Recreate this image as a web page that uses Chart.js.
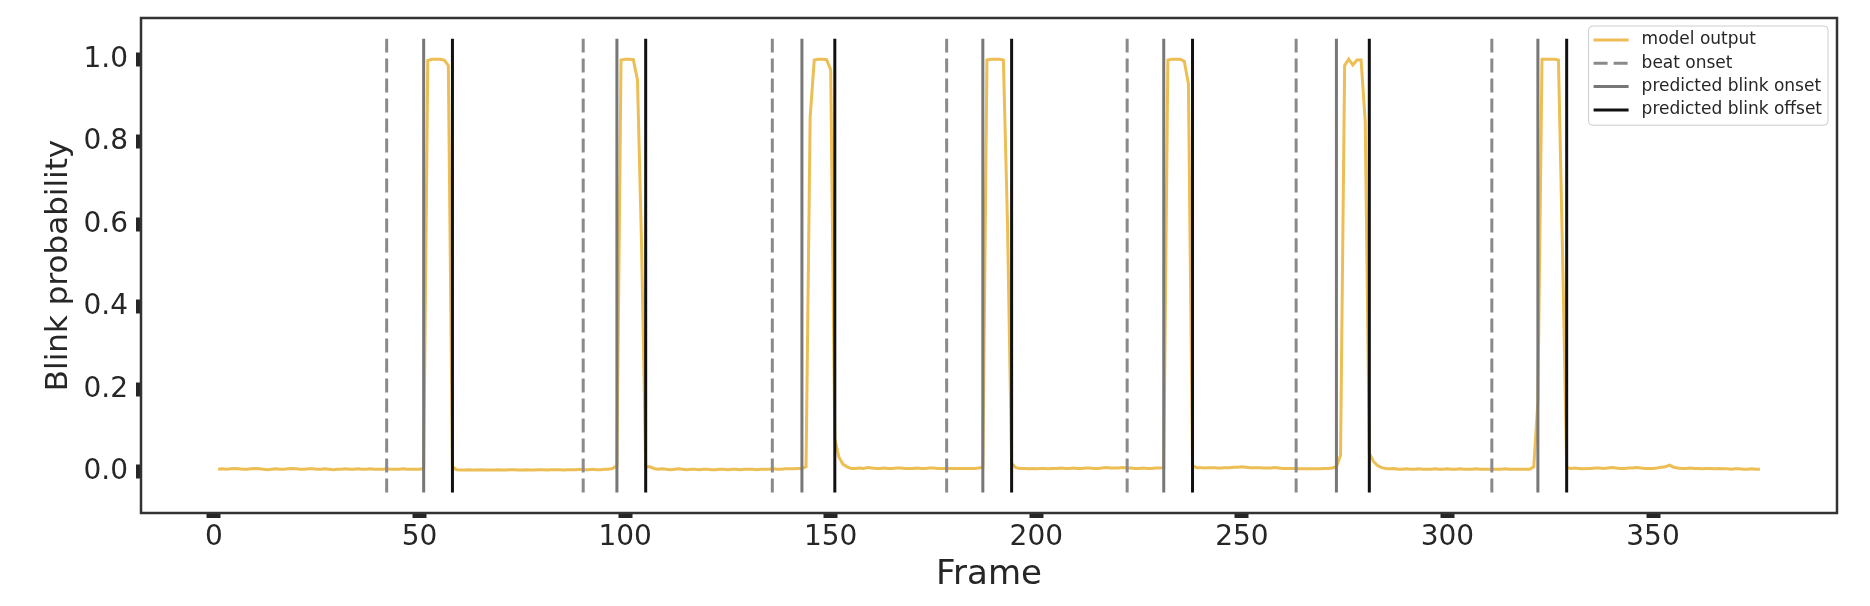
<!DOCTYPE html>
<html>
<head>
<meta charset="utf-8">
<script src="https://cdn.jsdelivr.net/npm/chart.js@4.4.1/dist/chart.umd.min.js"></script>
<style>
    body { margin: 0; background: #ffffff; }
    canvas { display: block; }
</style>
</head>
<body>
<canvas id="blink-chart" width="1870" height="606"></canvas>
<script>
const canvas = document.getElementById('blink-chart');
const FONT = '"DejaVu Sans", sans-serif';

// model output, one value per frame (frames 1..376)
const model_output = [
           0.006, 0.007, 0.006, 0.007, 0.008, 0.007, 0.006, 0.006, 0.007,
    0.008, 0.007, 0.006, 0.005, 0.006, 0.007, 0.006, 0.006, 0.007, 0.008,
    0.007, 0.006, 0.006, 0.007, 0.007, 0.006, 0.006, 0.007, 0.006, 0.005,
    0.006, 0.006, 0.007, 0.006, 0.006, 0.007, 0.006, 0.006, 0.007, 0.006,
    0.006, 0.006, 0.007, 0.006, 0.006, 0.006, 0.007, 0.006, 0.006, 0.006,
    0.006, 0.008, 0.997, 1.000, 1.000, 1.000, 0.998, 0.985, 0.012, 0.005,
    0.004, 0.004, 0.005, 0.004, 0.004, 0.005, 0.004, 0.004, 0.004, 0.005,
    0.004, 0.004, 0.005, 0.005, 0.004, 0.004, 0.005, 0.004, 0.004, 0.005,
    0.005, 0.004, 0.005, 0.005, 0.005, 0.004, 0.005, 0.005, 0.005, 0.006,
    0.005, 0.005, 0.006, 0.005, 0.005, 0.006, 0.006, 0.008, 0.015, 0.998,
    1.000, 1.000, 0.999, 0.950, 0.550, 0.012, 0.012, 0.008, 0.006, 0.007,
    0.006, 0.005, 0.006, 0.007, 0.006, 0.005, 0.006, 0.006, 0.005, 0.006,
    0.006, 0.005, 0.005, 0.006, 0.006, 0.005, 0.006, 0.006, 0.005, 0.006,
    0.006, 0.006, 0.005, 0.006, 0.006, 0.006, 0.007, 0.006, 0.006, 0.007,
    0.007, 0.007, 0.008, 0.008, 0.012, 0.860, 0.998, 1.000, 1.000, 0.999,
    0.975, 0.080, 0.035, 0.018, 0.012, 0.008, 0.008, 0.009, 0.008, 0.010,
    0.009, 0.008, 0.008, 0.009, 0.008, 0.008, 0.009, 0.009, 0.008, 0.008,
    0.008, 0.009, 0.008, 0.008, 0.009, 0.009, 0.008, 0.008, 0.008, 0.008,
    0.008, 0.008, 0.008, 0.008, 0.008, 0.008, 0.009, 0.011, 0.998, 1.000,
    1.000, 1.000, 0.998, 0.600, 0.020, 0.010, 0.008, 0.008, 0.007, 0.008,
    0.007, 0.008, 0.008, 0.007, 0.008, 0.008, 0.009, 0.008, 0.008, 0.009,
    0.008, 0.008, 0.009, 0.009, 0.008, 0.008, 0.009, 0.010, 0.009, 0.009,
    0.009, 0.010, 0.009, 0.009, 0.008, 0.008, 0.009, 0.008, 0.008, 0.009,
    0.009, 0.010, 0.998, 1.000, 1.000, 1.000, 0.995, 0.940, 0.015, 0.010,
    0.010, 0.009, 0.010, 0.010, 0.009, 0.009, 0.010, 0.010, 0.011, 0.011,
    0.012, 0.011, 0.010, 0.010, 0.010, 0.009, 0.009, 0.009, 0.010, 0.009,
    0.008, 0.008, 0.008, 0.008, 0.007, 0.007, 0.007, 0.007, 0.007, 0.007,
    0.008, 0.008, 0.009, 0.012, 0.040, 0.985, 1.000, 0.986, 0.998, 0.998,
    0.850, 0.045, 0.025, 0.015, 0.010, 0.008, 0.007, 0.008, 0.006, 0.006,
    0.007, 0.006, 0.006, 0.007, 0.006, 0.006, 0.006, 0.007, 0.006, 0.006,
    0.007, 0.006, 0.006, 0.007, 0.006, 0.006, 0.006, 0.007, 0.006, 0.006,
    0.006, 0.006, 0.006, 0.006, 0.007, 0.006, 0.006, 0.006, 0.006, 0.006,
    0.006, 0.012, 0.170, 1.000, 1.000, 1.000, 1.000, 0.998, 0.530, 0.010,
    0.008, 0.009, 0.008, 0.007, 0.008, 0.008, 0.009, 0.009, 0.008, 0.009,
    0.010, 0.009, 0.008, 0.008, 0.009, 0.009, 0.010, 0.009, 0.008, 0.008,
    0.008, 0.009, 0.011, 0.012, 0.016, 0.011, 0.009, 0.008, 0.008, 0.009,
    0.008, 0.008, 0.007, 0.008, 0.008, 0.007, 0.008, 0.007, 0.007, 0.006,
    0.007, 0.007, 0.006, 0.006, 0.007, 0.006, 0.006
];
const first_frame = 1;

const beat_onsets = [42.0, 89.8, 135.8, 178.2, 222.1, 263.2, 310.8];
const blink_onsets = [51, 98, 143, 187, 231, 273, 322];
const blink_offsets = [58, 105, 151, 194, 238, 281, 329];

const x_ticks = [0, 50, 100, 150, 200, 250, 300, 350];
const y_ticks = [0.0, 0.2, 0.4, 0.6, 0.8, 1.0];
const x_range = [-17.75, 394.75];
const y_range = [-0.1, 1.1];
const vline_span = [-0.05, 1.05];


// one dataset draws all vertical lines of a kind, broken by null points
function vline_points(xs) {
    const pts = [];
    xs.forEach(x => {
        pts.push({x: x, y: vline_span[0]}, {x: x, y: vline_span[1]}, {x: x, y: null});
    });
    return pts;
}


const frame_plugin = {
    id: 'frame',
    afterDraw(chart) {
        const {ctx, chartArea: a} = chart;
        ctx.save();
        ctx.strokeStyle = '#333333';
        ctx.lineWidth = 2.5;
        ctx.strokeRect(a.left, a.top, a.right - a.left, a.bottom - a.top);
        ctx.restore();
    }
};


const legend_plugin = {
    id: 'boxLegend',
    afterDraw(chart) {
        const {ctx, chartArea: a} = chart;
        const sets = chart.data.datasets;
        ctx.save();
        ctx.font = '17px ' + FONT;
        const text_w = Math.max(...sets.map(d => ctx.measureText(d.label).width));
        const pad = 5, handle = 35, gap = 13, row_h = 23.3;
        const w = pad + handle + gap + text_w + 6;
        const h = row_h * sets.length + 6;
        const x0 = a.right - 9 - w;
        const y0 = a.top + 8;

        ctx.beginPath();
        ctx.roundRect(x0, y0, w, h, 4);
        ctx.fillStyle = 'rgba(255, 255, 255, 0.85)';
        ctx.fill();
        ctx.strokeStyle = '#cccccc';
        ctx.lineWidth = 1;
        ctx.stroke();

        sets.forEach((d, i) => {
            const cy = y0 + 14 + i * row_h;
            ctx.beginPath();
            ctx.setLineDash(d.borderDash || []);
            ctx.strokeStyle = d.borderColor;
            ctx.lineWidth = d.borderWidth;
            ctx.moveTo(x0 + pad, cy);
            ctx.lineTo(x0 + pad + handle, cy);
            ctx.stroke();
            ctx.setLineDash([]);
            ctx.fillStyle = '#262626';
            ctx.textBaseline = 'middle';
            ctx.fillText(d.label, x0 + pad + handle + gap, cy);
        });
        ctx.restore();
    }
};


const chart = new Chart(canvas, {
    type: 'line',
    data: {
        datasets: [
            {
                label: 'model output',
                data: model_output.map((v, i) => ({x: first_frame + i, y: v})),
                borderColor: 'rgb(236, 190, 84)',
                borderWidth: 3,
                order: 4
            },
            {
                label: 'beat onset',
                data: vline_points(beat_onsets),
                borderColor: '#8a8a8a',
                borderWidth: 3,
                borderDash: [14, 6],
                order: 3
            },
            {
                label: 'predicted blink onset',
                data: vline_points(blink_onsets),
                borderColor: '#777777',
                borderWidth: 3,
                order: 2
            },
            {
                label: 'predicted blink offset',
                data: vline_points(blink_offsets),
                borderColor: '#111111',
                borderWidth: 3,
                order: 1
            }
        ]
    },
    options: {
        responsive: false,
        animation: false,
        events: [],
        layout: {
            padding: { top: 18, right: 33, bottom: 0, left: 0 }
        },
        elements: {
            point: { radius: 0 },
            line: { tension: 0, fill: false }
        },
        plugins: {
            legend: { display: false },
            tooltip: { enabled: false }
        },
        scales: {
            x: {
                type: 'linear',
                min: x_range[0],
                max: x_range[1],
                afterBuildTicks: (scale) => { scale.ticks = x_ticks.map(v => ({value: v})); },
                afterFit: (scale) => {
                    scale.height = 93;
                    scale.paddingLeft = 0;
                    scale.paddingRight = 0;
                },
                ticks: {
                    font: { family: FONT, size: 28 },
                    color: '#262626',
                    padding: 3,
                    maxRotation: 0,
                    autoSkip: false,
                    callback: (v) => String(v)
                },
                grid: {
                    drawOnChartArea: false,
                    drawTicks: true,
                    tickLength: 5,
                    tickWidth: 14,
                    tickColor: '#262626'
                },
                border: { display: false },
                title: {
                    display: true,
                    text: 'Frame',
                    font: { family: FONT, size: 34 },
                    color: '#262626',
                    padding: { top: 0, bottom: 10 }
                }
            },
            y: {
                type: 'linear',
                min: y_range[0],
                max: y_range[1],
                afterBuildTicks: (scale) => { scale.ticks = y_ticks.map(v => ({value: v})); },
                afterFit: (scale) => {
                    scale.width = 141;
                    scale.paddingTop = 0;
                    scale.paddingBottom = 0;
                },
                ticks: {
                    font: { family: FONT, size: 28 },
                    color: '#262626',
                    padding: 8,
                    autoSkip: false,
                    callback: (v) => v.toFixed(1)
                },
                grid: {
                    drawOnChartArea: false,
                    drawTicks: true,
                    tickLength: 5,
                    tickWidth: 14,
                    tickColor: '#262626'
                },
                border: { display: false },
                title: {
                    display: true,
                    text: 'Blink probability',
                    font: { family: FONT, size: 31 },
                    color: '#262626',
                    padding: { top: 40, bottom: 0 }
                }
            }
        }
    },
    plugins: [frame_plugin, legend_plugin]
});
</script>
</body>
</html>
